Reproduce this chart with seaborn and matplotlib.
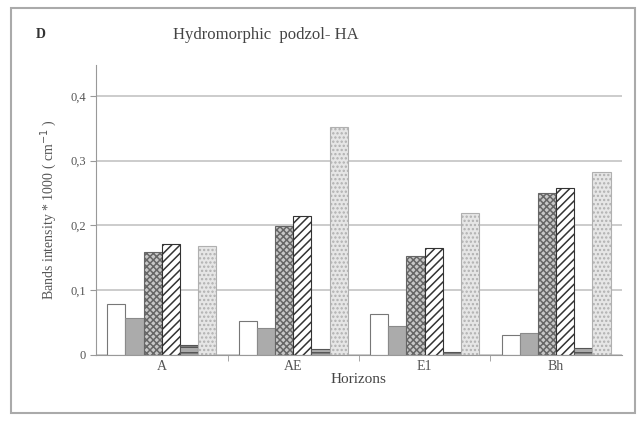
import seaborn as sns
import pandas as pd
import matplotlib.pyplot as plt
from matplotlib.patches import Rectangle

horizons = ["A", "AE", "E1", "Bh"]
bands = ["Band 1", "Band 2", "Band 3", "Band 4", "Band 5", "Band 6"]
band1 = [0.079, 0.053, 0.063, 0.031]
band2 = [0.057, 0.042, 0.044, 0.034]
band3 = [0.159, 0.199, 0.153, 0.250]
band4 = [0.171, 0.214, 0.165, 0.258]
band5 = [0.015, 0.009, 0.005, 0.011]
band6 = [0.168, 0.352, 0.219, 0.283]
y_ticks = [0, 0.1, 0.2, 0.3, 0.4]
y_tick_labels = ["0", "0,1", "0,2", "0,3", "0,4"]

rows = []
for name, vals in zip(bands, [band1, band2, band3, band4, band5, band6]):
    for h, v in zip(horizons, vals):
        rows.append({"Horizon": h, "Band": name, "Value": v})
df = pd.DataFrame(rows)

sns.set_style("white")
plt.rcParams['font.family'] = ['Liberation Serif', 'DejaVu Serif']
plt.rcParams['hatch.linewidth'] = 1.1

fig = plt.figure(figsize=(6.41, 4.21), dpi=100)
ax = fig.add_axes([0.150, 0.157, 0.820, 0.689])

sns.barplot(data=df, x="Horizon", y="Value", hue="Band", order=horizons,
            hue_order=bands, width=0.83, gap=0, legend=False, ax=ax,
            errorbar=None)

styles = [
    ("white", "#777777", ""),
    ("#ababab", "#8a8a8a", ""),
    ("#c8c8c8", "#666666", "xxxxx"),
    ("white", "#333333", "////"),
    ("#aaaaaa", "#555555", "---"),
    ("#e6e6e6", "#b0b0b0", "...."),
]
for cont, (fc, ec, hatch) in zip(ax.containers, styles):
    for bar in cont:
        bar.set_facecolor(fc)
        bar.set_edgecolor(ec)
        bar.set_hatch(hatch)
        bar.set_linewidth(0.8)

ax.set_ylim(0, 0.448)
ax.set_xlim(-0.5, 3.5)
ax.set_yticks(y_ticks)
ax.set_yticklabels(y_tick_labels)
ax.yaxis.grid(True, color="#c4c4c4", linewidth=1.2)
ax.set_axisbelow(True)
for s in ["top", "right"]:
    ax.spines[s].set_visible(False)
ax.spines["left"].set_color("#999999")
ax.spines["bottom"].set_color("#999999")
ax.tick_params(axis="y", direction="out", length=4, color="#999999",
               labelsize=9, labelcolor="#555555", left=True)
ax.tick_params(axis="x", length=0, labelsize=10, labelcolor="#555555", pad=4)
ax.set_xticks([0.5, 1.5, 2.5], minor=True)
ax.tick_params(axis="x", which="minor", direction="out", length=4,
               color="#999999", bottom=True)

ax.set_xlabel("Horizons", fontsize=11, color="#444444", labelpad=0)
ax.set_ylabel("Bands intensity * 1000 ( cm$^{-1}$ )", fontsize=10,
              color="#555555", labelpad=8)

fig.text(0.415, 0.917, "Hydromorphic  podzol- HA", fontsize=12,
         color="#444444", ha="center", va="center")
fig.text(0.063, 0.917, "D", fontsize=10, fontweight="bold",
         color="#333333", ha="center", va="center")

fig.patches.append(Rectangle((0.017, 0.019), 0.974, 0.962,
                             transform=fig.transFigure, fill=False,
                             edgecolor="#aaaaaa", linewidth=1.5))

fig.savefig("out.png", dpi=100)
